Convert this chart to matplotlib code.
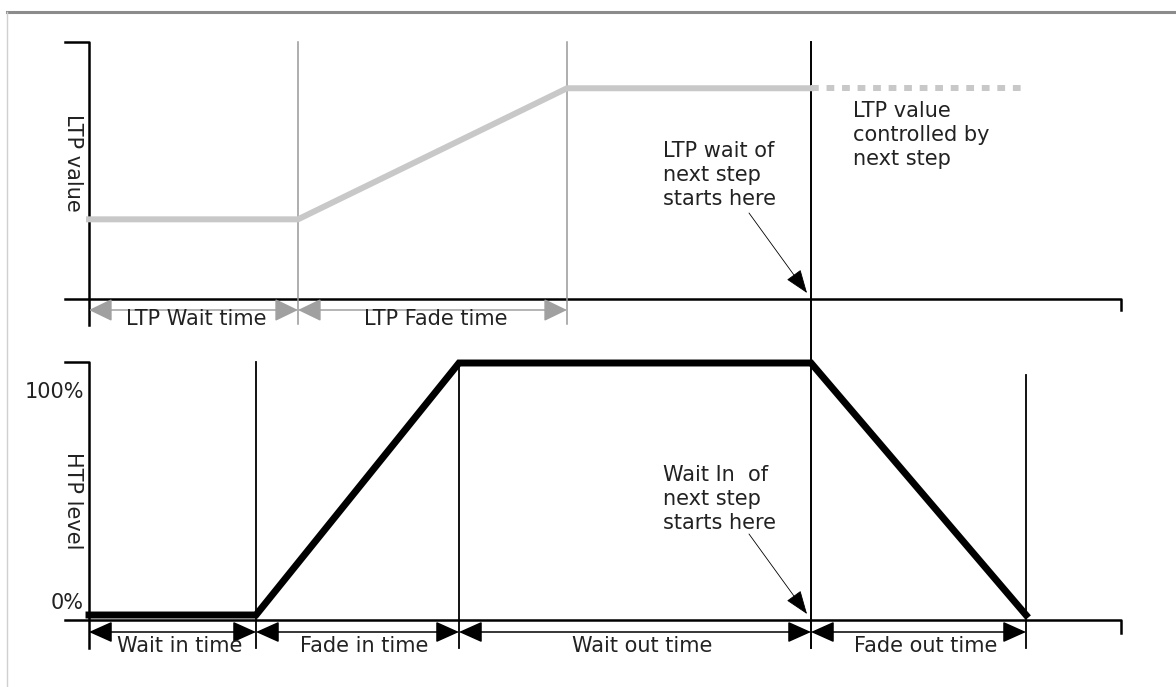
import numpy as np
import matplotlib.pyplot as plt

# phase durations (time units) and levels
ltp_phases = ["LTP Wait time", "LTP Fade time"]
ltp_durations = [2.09, 2.69]
ltp_levels = [0.31, 0.82]

htp_phases = ["Wait in time", "Fade in time", "Wait out time", "Fade out time"]
htp_durations = [1.67, 2.03, 3.52, 2.15]
htp_levels = [0, 0, 100, 100, 0]

W, H = 1176, 687
fig = plt.figure(figsize=(W / 100, H / 100), dpi=100)
plt.rcParams["font.family"] = "DejaVu Sans"
FS = 15


def make_axes(top_px, bot_px, base_px, unit_px):
    ax = fig.add_axes([0, 1 - bot_px / H, 1, (bot_px - top_px) / H])
    ax.set_xlim(-0.89, (W - 89) / 100)
    ax.set_ylim((base_px - bot_px) / unit_px, (base_px - top_px) / unit_px)
    ax.axis("off")
    return ax, (lambda p: (base_px - p) / unit_px)


def px(p):
    return (p - 89) / 100


ax_l, ly = make_axes(0, 343, 299, 257)
ax_h, hy = make_axes(343, 687, 615, 2.52)

t_ltp = np.concatenate([[0], np.cumsum(ltp_durations)])
t_htp = np.concatenate([[0], np.cumsum(htp_durations)])
next_step = t_htp[3]

# ---- LTP panel ----
ax_l.plot([px(65), 0, 0], [ly(42), ly(42), ly(325)], color="black", lw=1.8)
ax_l.plot([px(65), px(1121), px(1121)], [0, 0, ly(310)], color="black", lw=1.8)
for t in t_ltp[1:]:
    ax_l.plot([t, t], [ly(42), ly(324)], color="#999999", lw=1.1)
ax_l.axvline(next_step, ymin=0, ymax=(343 - 42) / 343, color="black", lw=1.4)

ax_l.plot([0, t_ltp[1], t_ltp[2], next_step],
          [ltp_levels[0], ltp_levels[0], ltp_levels[1], ltp_levels[1]],
          color="#c8c8c8", lw=4.3)
ax_l.plot([next_step, t_htp[-1]], [ltp_levels[1]] * 2, color="#c8c8c8",
          lw=4.3, dashes=(1.3, 1.3))

for i, name in enumerate(ltp_phases):
    ax_l.annotate("", xy=(t_ltp[i + 1], ly(310)), xytext=(t_ltp[i], ly(310)),
                  arrowprops=dict(arrowstyle="<|-|>,head_length=1.45,head_width=0.7",
                                  mutation_scale=10, color="#a0a0a0", lw=1.1,
                                  shrinkA=0, shrinkB=0))
    ax_l.text((t_ltp[i] + t_ltp[i + 1]) / 2 + 0.03, ly(309), name, ha="center",
              va="top", fontsize=FS, color="#222222")

ax_l.text(px(73), ly(163), "LTP value", rotation=270, ha="center", va="center",
          fontsize=FS, color="#222222")
ax_l.text(px(663), ly(141), "LTP wait of\nnext step\nstarts here", ha="left",
          va="top", fontsize=FS, color="#222222", linespacing=1.25)
ax_l.annotate("", xy=(next_step - 0.04, ly(293)), xytext=(px(749), ly(213)),
              arrowprops=dict(arrowstyle="-|>,head_length=1.5,head_width=0.55",
                              mutation_scale=10, color="black", lw=0.6,
                              shrinkA=0, shrinkB=0))
ax_l.text(px(853), ly(101), "LTP value\ncontrolled by\nnext step", ha="left",
          va="top", fontsize=FS, color="#222222", linespacing=1.25)

# ---- HTP panel ----
ax_h.plot([px(65), 0, 0], [hy(362), hy(362), hy(648)], color="black", lw=1.8)
ax_h.plot([px(65), px(1121), px(1121)], [hy(620), hy(620), hy(633)],
          color="black", lw=1.8)
for t, top in zip([t_htp[1], t_htp[2], t_htp[4]], [362, 364, 375]):
    ax_h.plot([t, t], [hy(top), hy(648)], color="black", lw=1.3)
ax_h.axvline(next_step, ymin=(687 - 648) / 344, ymax=1, color="black", lw=1.4)

ax_h.plot(t_htp, htp_levels, color="black", lw=5, solid_joinstyle="miter")

for i, name in enumerate(htp_phases):
    ax_h.annotate("", xy=(t_htp[i + 1], hy(632)), xytext=(t_htp[i], hy(632)),
                  arrowprops=dict(arrowstyle="<|-|>,head_length=1.45,head_width=0.65",
                                  mutation_scale=10, color="black", lw=1.1,
                                  shrinkA=0, shrinkB=0))
    ax_h.text((t_htp[i] + t_htp[i + 1]) / 2 + 0.07, hy(636), name, ha="center",
              va="top", fontsize=FS, color="#222222")

ax_h.text(px(84), hy(392), "100%", ha="right", va="center", fontsize=FS,
          color="#222222")
ax_h.text(px(84), hy(603), "0%", ha="right", va="center", fontsize=FS,
          color="#222222")
ax_h.text(px(73), hy(501), "HTP level", rotation=270, ha="center", va="center",
          fontsize=FS, color="#222222")
ax_h.text(px(663), hy(465), "Wait In  of\nnext step\nstarts here", ha="left",
          va="top", fontsize=FS, color="#222222", linespacing=1.25)
ax_h.annotate("", xy=(next_step - 0.04, hy(614)), xytext=(px(749), hy(534)),
              arrowprops=dict(arrowstyle="-|>,head_length=1.5,head_width=0.55",
                              mutation_scale=10, color="black", lw=0.6,
                              shrinkA=0, shrinkB=0))

# page frame
fig.add_artist(plt.Line2D([7 / W, 1], [1 - 12 / H] * 2, color="#8c8c8c", lw=2.2))
fig.add_artist(plt.Line2D([7 / W] * 2, [0, 1 - 12 / H], color="#d0d0d0", lw=1.0))

fig.savefig("out.png", dpi=100)
